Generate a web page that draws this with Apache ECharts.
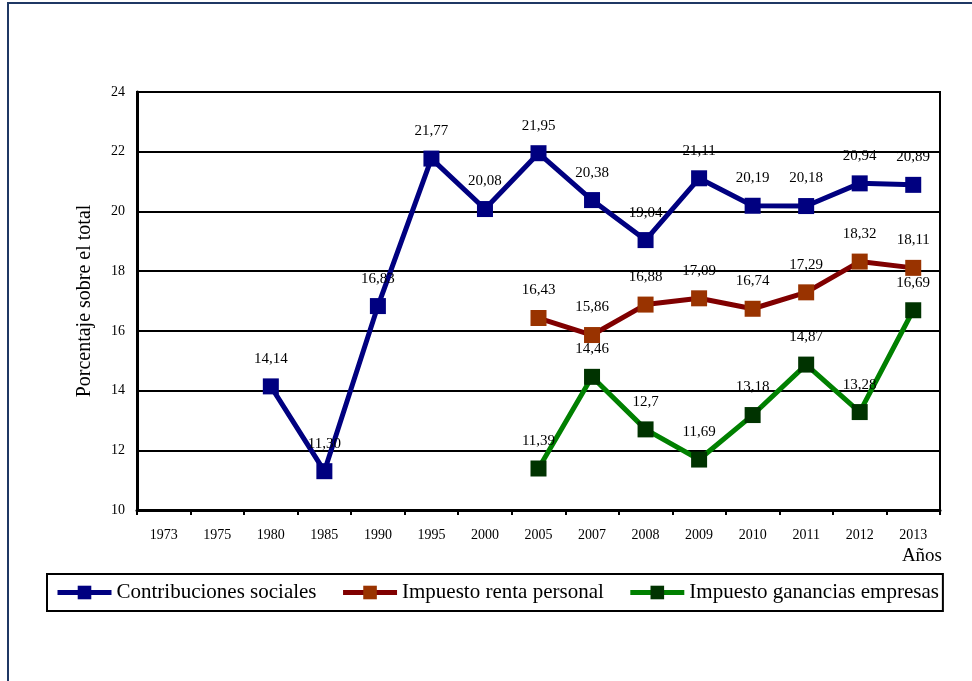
<!DOCTYPE html>
<html>
<head>
<meta charset="utf-8">
<script src="https://cdn.jsdelivr.net/npm/echarts@6/dist/echarts.min.js"></script>
<style>
  html, body { margin: 0; padding: 0; background: #fff; }
  #chart { width: 972px; height: 681px; }
</style>
</head>
<body>
<div id="chart"></div>
<script>
// Years on the category axis
const years = ['1973', '1975', '1980', '1985', '1990', '1995', '2000', '2005', '2007', '2008', '2009', '2010', '2011', '2012', '2013'];

// Share of total tax revenue (%)
const contribucionesSociales = [null, null, 14.14, 11.30, 16.83, 21.77, 20.08, 21.95, 20.38, 19.04, 21.11, 20.19, 20.18, 20.94, 20.89];
const impuestoRentaPersonal = [null, null, null, null, null, null, null, 16.43, 15.86, 16.88, 17.09, 16.74, 17.29, 18.32, 18.11];
const impuestoGananciasEmpresas = [null, null, null, null, null, null, null, 11.39, 14.46, 12.7, 11.69, 13.18, 14.87, 13.28, 16.69];

// Y axis range
const yMin = 10, yMax = 24, yStep = 2;

const serif = "'Times New Roman', 'Liberation Serif', serif";

const fixed2 = p => p.value.toFixed(2).replace('.', ',');
const general = p => String(p.value).replace('.', ',');

function makeSeries(name, data, lineColor, markerColor, fmt) {
  return {
    name: name,
    type: 'line',
    data: data,
    symbol: 'rect',
    symbolSize: 16,
    connectNulls: false,
    lineStyle: { color: lineColor, width: 5 },
    itemStyle: { color: markerColor, borderWidth: 0 },
    label: {
      show: true,
      position: 'top',
      distance: 12,
      formatter: fmt,
      fontFamily: serif,
      fontSize: 15,
      color: '#000'
    },
    emphasis: { disabled: true },
    animation: false
  };
}

const chart = echarts.init(document.getElementById('chart'), null, { renderer: 'canvas' });

chart.setOption({
  backgroundColor: '#fff',
  animation: false,
  textStyle: { fontFamily: serif },
  grid: {
    left: 137, right: 32, top: 92, bottom: 171,
    show: true, borderColor: '#000', borderWidth: 2, backgroundColor: 'transparent'
  },
  graphic: [
    {
      type: 'rect',
      shape: { x: 8, y: 3, width: 1000, height: 720 },
      style: { fill: 'none', stroke: '#1F3864', lineWidth: 2 },
      silent: true, z: -1
    },
    {
      type: 'text',
      right: 30, top: 547,
      style: { text: 'Años', font: "19px 'Times New Roman', 'Liberation Serif', serif", fill: '#000' }
    }
  ],
  legend: {
    left: 47, top: 574,
    padding: [8, 4, 8, 8],
    itemGap: 24,
    itemWidth: 54,
    itemHeight: 17,
    borderColor: '#000',
    borderWidth: 2,
    lineStyle: { width: 5 },
    textStyle: { fontFamily: serif, fontSize: 21, color: '#000' },
    data: ['Contribuciones sociales', 'Impuesto renta personal', 'Impuesto ganancias empresas']
  },
  xAxis: {
    type: 'category',
    data: years,
    boundaryGap: true,
    axisLine: { lineStyle: { color: '#000', width: 3 } },
    axisTick: { show: true, alignWithLabel: false, length: 5, lineStyle: { color: '#000', width: 2 } },
    axisLabel: { fontFamily: serif, fontSize: 14, color: '#000', margin: 18 },
    splitLine: { show: false }
  },
  yAxis: {
    type: 'value',
    min: yMin, max: yMax, interval: yStep,
    name: 'Porcentaje sobre el total',
    nameLocation: 'middle',
    nameGap: 42,
    nameTextStyle: { fontFamily: serif, fontSize: 20, color: '#000' },
    axisLine: { show: true, lineStyle: { color: '#000', width: 3 } },
    axisTick: { show: false },
    axisLabel: { fontFamily: serif, fontSize: 14, color: '#000', margin: 12 },
    splitLine: { show: true, lineStyle: { color: '#000', width: 2 } }
  },
  series: [
    makeSeries('Contribuciones sociales', contribucionesSociales, '#000080', '#000080', fixed2),
    makeSeries('Impuesto renta personal', impuestoRentaPersonal, '#800000', '#993300', fixed2),
    makeSeries('Impuesto ganancias empresas', impuestoGananciasEmpresas, '#008000', '#003300', general)
  ]
});
</script>
</body>
</html>
